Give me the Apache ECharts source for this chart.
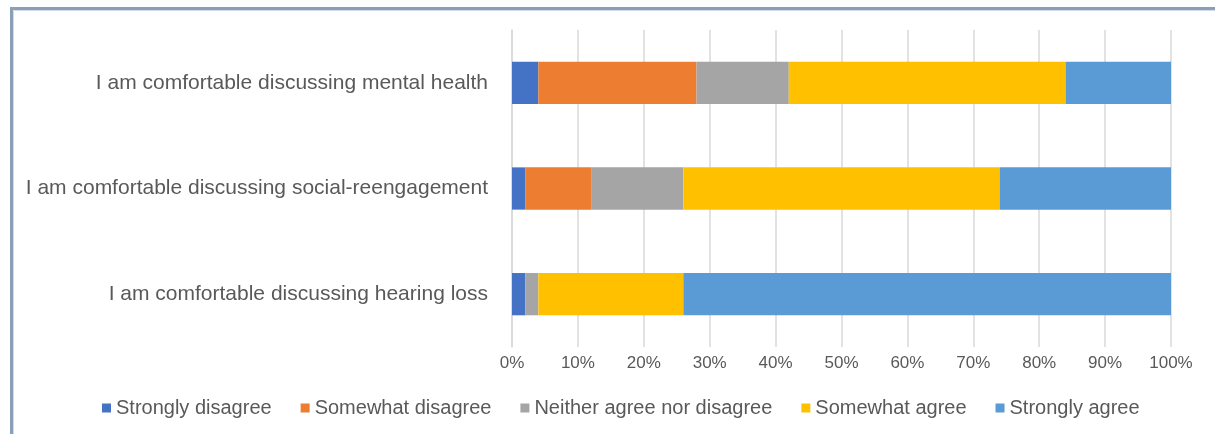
<!DOCTYPE html>
<html>
<head>
<meta charset="utf-8">
<style>
  html, body { margin: 0; padding: 0; background: #ffffff; }
  #chart { width: 1215px; height: 434px; }
</style>
<script src="https://cdn.jsdelivr.net/npm/echarts@6/dist/echarts.min.js"></script>
</head>
<body>
<div id="chart"></div>
<script>
// Survey statements, listed bottom to top as drawn on the category axis
const statements = [
  'I am comfortable discussing hearing loss',
  'I am comfortable discussing social-reengagement',
  'I am comfortable discussing mental health'
];

// Share of responses (%) per answer, in statement order
const stronglyDisagree = [2, 2, 4];
const somewhatDisagree = [0, 10, 24];
const neitherAgreeNorDisagree = [2, 14, 14];
const somewhatAgree = [22, 48, 42];
const stronglyAgree = [74, 26, 16];

const answerNames = [
  'Strongly disagree',
  'Somewhat disagree',
  'Neither agree nor disagree',
  'Somewhat agree',
  'Strongly agree'
];
const answerValues = [
  stronglyDisagree,
  somewhatDisagree,
  neitherAgreeNorDisagree,
  somewhatAgree,
  stronglyAgree
];
const answerColors = ['#4472C4', '#ED7D31', '#A5A5A5', '#FFC000', '#5B9BD5'];

const percentTicks = [0, 10, 20, 30, 40, 50, 60, 70, 80, 90, 100];

const textColor = '#595959';
const fontFamily = '"Liberation Sans", Arial, sans-serif';

const chart = echarts.init(document.getElementById('chart'), null, { renderer: 'canvas' });

chart.setOption({
  backgroundColor: '#ffffff',
  animation: false,
  graphic: [
    {
      type: 'rect',
      shape: { x: 11.5, y: 8.5, width: 1240, height: 460 },
      style: { fill: 'none', stroke: '#8a9fb8', lineWidth: 3 },
      z: 100
    },
    {
      type: 'rect',
      shape: { x: 13.5, y: 10.5, width: 1240, height: 460 },
      style: { fill: 'none', stroke: '#d3dbe5', lineWidth: 1 },
      z: 100
    }
  ],
  grid: {
    left: 512,
    right: 44,
    top: 30,
    bottom: 87,
    containLabel: false
  },
  legend: {
    data: answerNames,
    left: 102,
    top: 398,
    padding: 0,
    itemWidth: 9,
    itemHeight: 9,
    itemGap: 29,
    icon: 'rect',
    textStyle: { color: textColor, fontSize: 20, fontFamily: fontFamily }
  },
  xAxis: {
    type: 'value',
    min: 0,
    max: 100,
    interval: 10,
    axisLine: { show: false },
    axisTick: { show: false },
    splitLine: { show: true, lineStyle: { color: '#d9d9d9', width: 1.5 } },
    axisLabel: {
      color: textColor,
      fontSize: 17,
      fontFamily: fontFamily,
      margin: 8,
      formatter: function (v) {
        return percentTicks.indexOf(v) >= 0 ? v + '%' : '';
      }
    }
  },
  yAxis: {
    type: 'category',
    data: statements,
    axisLine: { show: true, lineStyle: { color: '#d9d9d9', width: 1.5 } },
    axisTick: { show: false },
    axisLabel: {
      color: textColor,
      fontSize: 21,
      fontFamily: fontFamily,
      margin: 24
    }
  },
  series: answerNames.map(function (name, i) {
    return {
      name: name,
      type: 'bar',
      stack: 'share',
      barWidth: '40%',
      data: answerValues[i],
      itemStyle: { color: answerColors[i] },
      emphasis: { disabled: true }
    };
  })
});
</script>
</body>
</html>
